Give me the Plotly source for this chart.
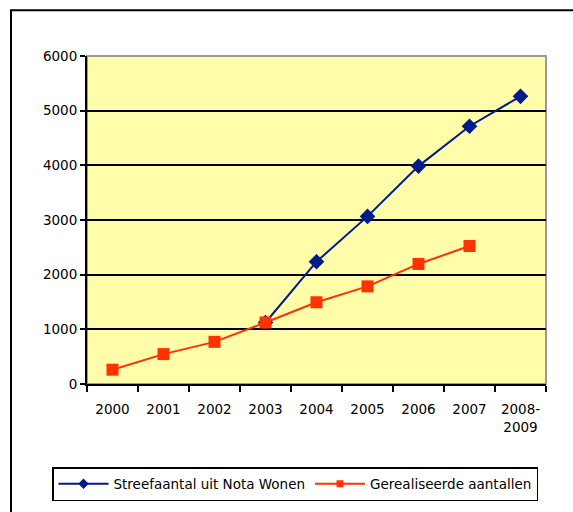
import plotly.graph_objects as go

# Categories on the x axis
years = ["2000", "2001", "2002", "2003", "2004", "2005", "2006", "2007", "2008-<br>2009"]

# Target numbers from the policy note (series starts in 2003)
target_years = ["2003", "2004", "2005", "2006", "2007", "2008-<br>2009"]
target_values = [1125, 2237, 3066, 3986, 4715, 5262]

# Realised numbers
realised_years = ["2000", "2001", "2002", "2003", "2004", "2005", "2006", "2007"]
realised_values = [262, 547, 771, 1125, 1495, 1786, 2196, 2524]

y_ticks = [0, 1000, 2000, 3000, 4000, 5000, 6000]

target_name = "Streefaantal uit Nota Wonen"
realised_name = "Gerealiseerde aantallen"
blue = "#001a8c"
red = "#ff3300"

W, H = 573, 512
L, R, T, B = 87, 27, 56, 127

font = "DejaVu Sans, Verdana, sans-serif"

fig = go.Figure()
fig.add_trace(go.Scatter(
    x=target_years, y=target_values, mode="lines+markers",
    name=target_name, showlegend=False,
    line=dict(color=blue, width=2),
    marker=dict(symbol="diamond", size=12, color=blue),
))
fig.add_trace(go.Scatter(
    x=realised_years, y=realised_values, mode="lines+markers",
    name=realised_name, showlegend=False,
    line=dict(color=red, width=2),
    marker=dict(symbol="square", size=12, color=red),
))
# legend keys with smaller symbols
fig.add_trace(go.Scatter(
    x=[None], y=[None], mode="lines+markers", name=target_name,
    line=dict(color=blue, width=2),
    marker=dict(symbol="diamond", size=8, color=blue),
))
fig.add_trace(go.Scatter(
    x=[None], y=[None], mode="lines+markers", name=realised_name,
    line=dict(color=red, width=2),
    marker=dict(symbol="square", size=7, color=red),
))

pw = W - L - R
ph = H - T - B

def px_x(x):
    return (x - L) / pw

def px_y(y):
    return (H - B - y) / ph

shapes = [
    # plot-area frame (grey on top and right)
    dict(type="rect", xref="paper", yref="paper", x0=0, x1=1, y0=0, y1=1,
         line=dict(color="#9a9a9a", width=2), layer="below"),
    # outer chart frame
    dict(type="rect", xref="paper", yref="paper",
         x0=px_x(11), x1=px_x(600), y0=px_y(540), y1=px_y(10),
         line=dict(color="black", width=2)),
]

fig.update_layout(
    width=W, height=H,
    margin=dict(l=L, r=R, t=T, b=B),
    paper_bgcolor="white",
    plot_bgcolor="#fffcaa",
    font=dict(family=font, size=13, color="black"),
    shapes=shapes,
    showlegend=True,
    legend=dict(
        orientation="h", x=px_x(52), y=px_y(467), xanchor="left", yanchor="top",
        bordercolor="black", borderwidth=1.5, bgcolor="white",
        font=dict(family=font, size=13.5, color="black"),
        traceorder="normal", itemwidth=50,
    ),
    xaxis=dict(
        type="category", categoryorder="array", categoryarray=years,
        tickmode="array", tickvals=years, ticktext=years,
        range=[-0.5, len(years) - 0.5],
        showgrid=False, showline=True, linecolor="black", linewidth=2,
        ticks="outside", tickson="boundaries", ticklen=6, tickwidth=2, tickcolor="black",
        ticklabelstandoff=12,
        tickfont=dict(family=font, size=13.5),
        zeroline=False, fixedrange=True,
    ),
    yaxis=dict(
        range=[0, 6000], tickvals=y_ticks,
        showgrid=True, gridcolor="black", gridwidth=2,
        showline=True, linecolor="black", linewidth=2,
        ticks="outside", ticklen=5, tickwidth=2, tickcolor="black",
        tickfont=dict(family=font, size=13.5),
        zeroline=False, fixedrange=True,
    ),
)

fig.write_html("out.html")
